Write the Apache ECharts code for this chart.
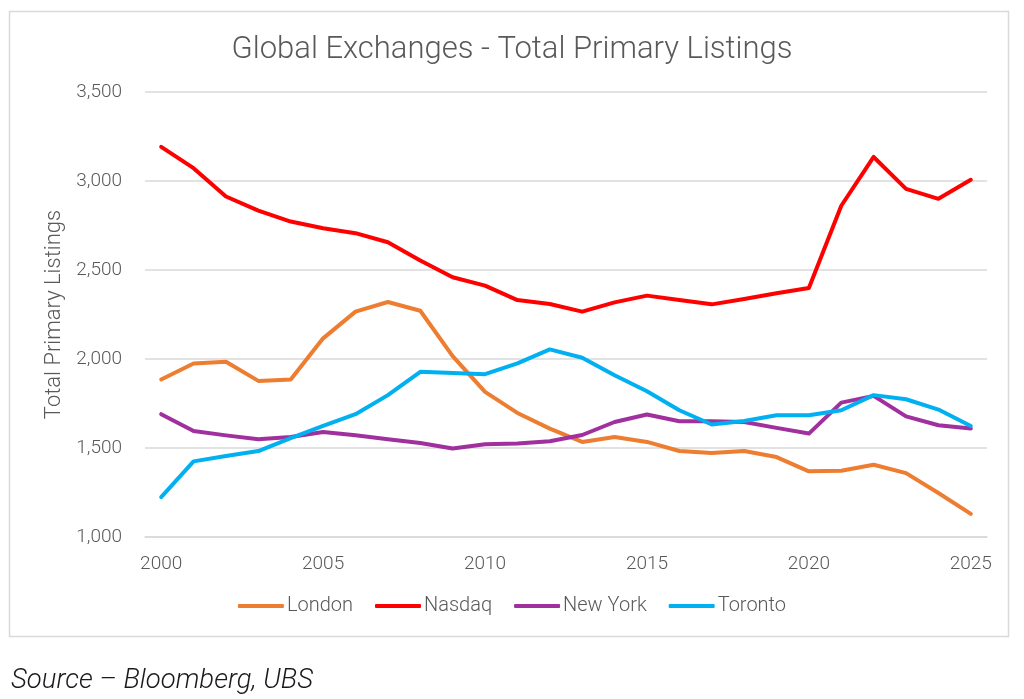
<!DOCTYPE html>
<html>
<head>
<meta charset="utf-8">
<script src="https://cdn.jsdelivr.net/npm/echarts@6/dist/echarts.min.js"></script>
<style>
  html, body { margin: 0; padding: 0; background: #fff; }
  #chart { width: 1024px; height: 699px; }
</style>
</head>
<body>
<div id="chart"></div>
<script>
// years on the x axis
var years = [];
for (var y = 2000; y <= 2025; y++) years.push(String(y));

// values
var london  = [1885, 1975, 1984, 1877, 1885, 2116, 2266, 2320, 2271, 2016, 1815, 1697, 1609,
               1534, 1562, 1534, 1483, 1472, 1483, 1449, 1369, 1372, 1406, 1359, 1247, 1130];
var nasdaq  = [3192, 3072, 2913, 2834, 2772, 2735, 2707, 2656, 2553, 2459, 2412, 2331, 2309,
               2266, 2318, 2356, 2331, 2307, 2337, 2369, 2399, 2861, 3135, 2956, 2900, 3007];
var newYork = [1690, 1596, 1571, 1549, 1562, 1590, 1571, 1549, 1528, 1497, 1521, 1525, 1538,
               1573, 1646, 1688, 1650, 1650, 1646, 1613, 1581, 1755, 1793, 1678, 1628, 1609];
var toronto = [1224, 1425, 1455, 1483, 1556, 1624, 1690, 1797, 1928, 1922, 1915, 1975, 2054,
               2007, 1909, 1819, 1712, 1632, 1652, 1684, 1684, 1712, 1797, 1774, 1716, 1624];

var seriesNames = ['London', 'Nasdaq', 'New York', 'Toronto'];
var seriesColors = ['#ED7D31', '#FF0000', '#A0309D', '#00B0F0'];
var seriesData = [london, nasdaq, newYork, toronto];

var textGray = '#595959';
var font = 'Roboto';

var chart = echarts.init(document.getElementById('chart'));

var option = {
  backgroundColor: '#fff',
  animation: false,
  title: {
    text: 'Global Exchanges - Total Primary Listings',
    left: 'center',
    top: 30,
    textStyle: { color: textGray, fontFamily: font, fontWeight: 300, fontSize: 31 }
  },
  grid: { left: 145, right: 37, top: 92, bottom: 162 },
  legend: {
    top: 591,
    left: 'center',
    itemWidth: 46,
    itemHeight: 4,
    itemGap: 22,
    icon: 'roundRect',
    textStyle: { color: textGray, fontFamily: font, fontWeight: 300, fontSize: 20, padding: [0, 0, 0, -2] },
    data: seriesNames
  },
  xAxis: {
    type: 'category',
    data: years,
    boundaryGap: true,
    axisLine: { lineStyle: { color: '#d9d9d9', width: 1.5 } },
    axisTick: { show: false },
    axisLabel: {
      interval: 4, color: textGray, fontFamily: font, fontWeight: 300, fontSize: 19, margin: 18
    }
  },
  yAxis: {
    type: 'value',
    min: 1000,
    max: 3500,
    interval: 500,
    name: 'Total Primary Listings',
    nameLocation: 'middle',
    nameGap: 80,
    nameTextStyle: { color: textGray, fontFamily: font, fontWeight: 300, fontSize: 22 },
    axisLine: { show: false },
    axisTick: { show: false },
    splitLine: { lineStyle: { color: '#d9d9d9', width: 1.5 } },
    axisLabel: {
      color: textGray, fontFamily: font, fontWeight: 300, fontSize: 19, margin: 23,
      formatter: function (v) { return v.toLocaleString('en-US'); }
    }
  },
  series: seriesNames.map(function (name, i) {
    return {
      name: name,
      type: 'line',
      data: seriesData[i],
      color: seriesColors[i],
      symbol: 'none',
      lineStyle: { width: 4, color: seriesColors[i], join: 'round', cap: 'round' }
    };
  }),
  graphic: [
    {
      type: 'rect',
      shape: { x: 9.5, y: 11.5, width: 999, height: 625 },
      style: { fill: null, stroke: '#d9d9d9', lineWidth: 1.5 },
      z: -1
    },
    {
      type: 'text',
      left: 11,
      top: 668,
      style: {
        text: 'Source \u2013 Bloomberg, UBS',
        fill: '#1a1a1a',
        font: 'italic 300 27.5px Roboto'
      }
    }
  ]
};

chart.setOption(option);
</script>
</body>
</html>
